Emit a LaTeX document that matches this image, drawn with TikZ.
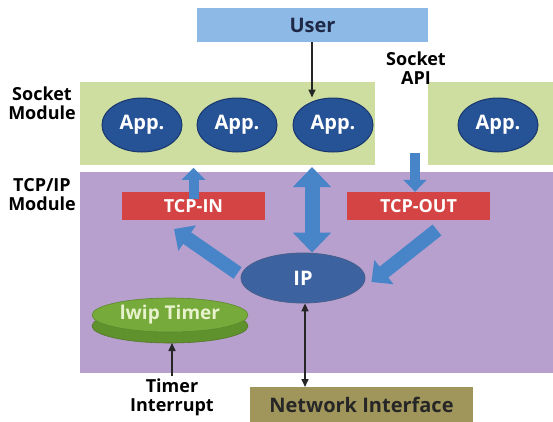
\documentclass[tikz,border=0pt]{standalone}
\usepackage{fontspec}
\setmainfont{Open Sans}
\usetikzlibrary{arrows.meta,shapes.geometric}

\definecolor{userblue}{RGB}{140,185,230}
\definecolor{sockgreen}{RGB}{205,222,160}
\definecolor{tcppurple}{RGB}{183,160,205}
\definecolor{appblue}{RGB}{38,82,150}
\definecolor{appedge}{RGB}{25,55,110}
\definecolor{tcpred}{RGB}{212,68,68}
\definecolor{fatblue}{RGB}{72,132,200}
\definecolor{timergreen}{RGB}{118,170,58}
\definecolor{timerdark}{RGB}{95,145,45}
\definecolor{timertext}{RGB}{232,242,205}
\definecolor{netolive}{RGB}{160,150,92}
\definecolor{darktext}{RGB}{30,40,70}

\tikzset{
  lbl/.style={font=\bfseries\fontsize{18}{19}\selectfont, align=center, text=black, inner sep=0pt},
  app/.style={ellipse, fill=appblue, draw=appedge, line width=1pt,
    minimum width=80pt, minimum height=54pt, inner sep=0pt,
    text=white, font=\bfseries\fontsize{20}{22}\selectfont},
  tcpbox/.style={rectangle, fill=tcpred, minimum width=143pt, minimum height=28pt,
    inner sep=0pt, text=white, font=\bfseries\fontsize{18}{20}\selectfont},
  thinarrow/.style={-{Triangle[width=7pt,length=8pt]}, line width=1.6pt, draw=black!85},
}

\begin{document}
\begin{tikzpicture}[x=1pt,y=-1pt]
  \useasboundingbox (0,0) rectangle (553,421);

  % layer backgrounds
  \fill[tcppurple] (80,172) rectangle (553,373);
  \fill[sockgreen] (80,82) rectangle (375,165);
  \fill[sockgreen] (428,82) rectangle (553,165);

  % user layer
  \node[rectangle, fill=userblue, minimum width=231pt, minimum height=34pt, inner sep=0pt,
        text=darktext, font=\bfseries\fontsize{20}{22}\selectfont] (user) at (312.5,25) {User};
  \node[lbl] (api) at (416,68) {Socket\\API};

  % side labels
  \node[lbl] (sockmod) at (42,103) {Socket\\Module};
  \node[lbl] (tcpmod) at (42,195) {TCP/IP\\Module};

  % applications
  \node[app] (app1) at (142,125) {App.};
  \node[app] (app2) at (237,125) {App.};
  \node[app] (app3) at (333,125) {App.};
  \node[app] (app4) at (498,125) {App.};

  % TCP blocks
  \node[tcpbox] (tcpin) at (193.5,206) {TCP-IN};
  \node[tcpbox] (tcpout) at (418.5,206) {TCP-OUT};

  % IP
  \node[ellipse, fill=appblue!90!white, draw=appedge!80, line width=0.8pt,
        minimum width=124pt, minimum height=50pt, inner sep=0pt,
        text=white, font=\bfseries\fontsize{20}{22}\selectfont] (ip) at (303,278) {IP};

  % lwip timer (a flat disk)
  \fill[timerdark] (170,326) ellipse [x radius=78, y radius=17];
  \draw[timergreen!70!black, line width=0.6pt] (170,326) ellipse [x radius=78, y radius=17];
  \node[ellipse, fill=timergreen, draw=timergreen!80!black, line width=0.6pt,
        minimum width=156pt, minimum height=34pt, inner sep=0pt,
        text=timertext, font=\bfseries\fontsize{19}{21}\selectfont] (timer) at (170,315) {lwip Timer};
  \node[lbl] (irq) at (172,397) {Timer\\Interrupt};

  % network interface
  \node[rectangle, fill=netolive, minimum width=223pt, minimum height=36pt, inner sep=0pt,
        anchor=north, text=black!85, font=\bfseries\fontsize{20}{22}\selectfont] (net) at (361.5,387) {Network Interface};

  % thin connectors
  \draw[thinarrow] (user.south -| 312,0) -- (app3.north -| 312,0);
  \draw[thinarrow] (irq.north) ++(0,-2) coordinate (irqTop) -- (irqTop |- 0,343);
  \draw[thinarrow, {Triangle[width=7pt,length=8pt]}-{Triangle[width=7pt,length=8pt]}] (ip.south -| 305,0) -- (net.north -| 305,0);

  % fat data-flow arrows
  \draw[fatblue, line width=10pt, -{Triangle[width=23pt,length=12pt]}]
    ([yshift=-7pt]tcpin.north) -- ++(0,-31);
  \coordinate (outTail) at (415,153);
  \draw[fatblue, line width=10pt, -{Triangle[width=23pt,length=12pt]}]
    (outTail) -- (outTail |- tcpout.north);
  \draw[fatblue, line width=15pt, {Triangle[width=37pt,length=20pt]}-{Triangle[width=37pt,length=20pt]}]
    (312,167) -- (ip.north -| 312,0);
  \draw[fatblue, line width=14pt, -{Triangle[width=30pt,length=16pt]}]
    (ip.west |- 0,274) ++(-3,-1) coordinate (inTail) -- (174,229);
  \draw[fatblue, line width=14pt, -{Triangle[width=30pt,length=16pt]}]
    (437,230) -- ([xshift=6pt,yshift=-4pt]ip.east);
\end{tikzpicture}
\end{document}
